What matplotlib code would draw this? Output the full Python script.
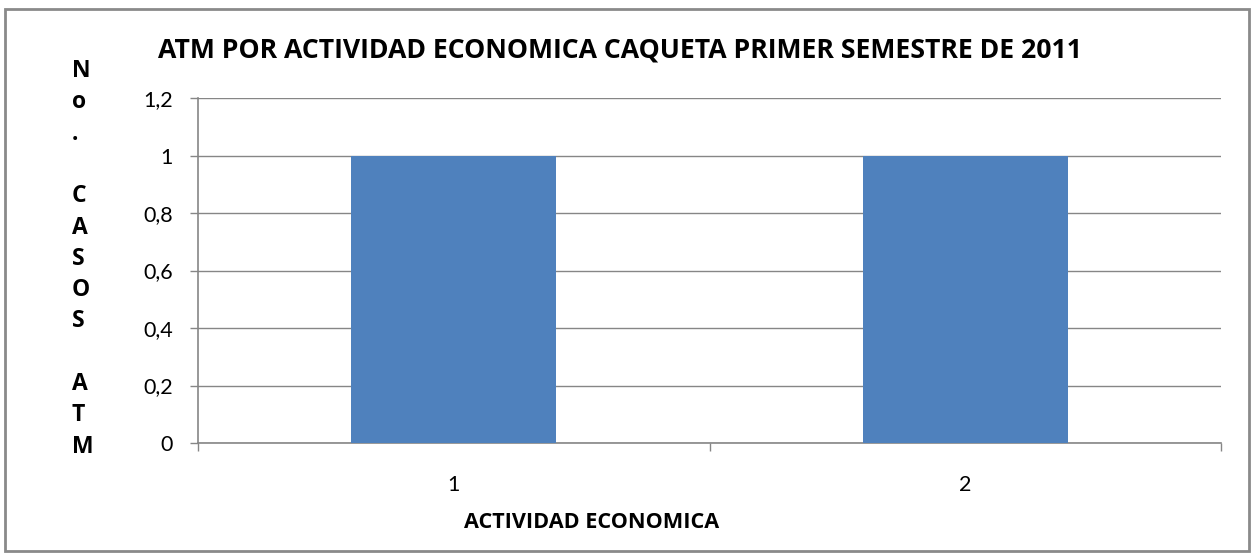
import matplotlib
matplotlib.use("Agg")
import matplotlib.pyplot as plt
from matplotlib.patches import Rectangle
from matplotlib.ticker import FixedLocator, FuncFormatter

categories = ["1", "2"]
values = [1, 1]
y_ticks = [0, 0.2, 0.4, 0.6, 0.8, 1.0, 1.2]
title = "ATM POR ACTIVIDAD ECONOMICA CAQUETA PRIMER SEMESTRE DE 2011"
xlabel = "ACTIVIDAD ECONOMICA"
ylabel_lines = ["N", "o", ".", "", "C", "A", "S", "O", "S", "", "A", "T", "M"]

plt.rcParams['font.family'] = ['Lato', 'DejaVu Sans']
bold_family = ['Open Sans', 'DejaVu Sans']
W, H = 1252, 556
fig = plt.figure(figsize=(W / 100, H / 100), dpi=100)
ax = fig.add_axes([198 / W, 1 - 443 / H, (1221 - 198) / W, (443 - 98) / H])

grid_c = "#868686"
bar_c = "#4F81BD"
x = list(range(1, len(categories) + 1))
ax.bar(x, values, width=0.4, color=bar_c, zorder=3)
ax.set_xlim(0.5, len(categories) + 0.5)
ax.set_ylim(0, 1.2)
ax.set_yticks(y_ticks)
ax.yaxis.set_major_formatter(FuncFormatter(lambda v, p: ("%g" % v).replace(".", ",")))
ax.grid(axis='y', color=grid_c, linewidth=1.0, zorder=0)
ax.set_axisbelow(True)

ax.xaxis.set_major_locator(FixedLocator([0.5 + i for i in range(len(categories) + 1)]))
ax.xaxis.set_minor_locator(FixedLocator(x))
ax.xaxis.set_major_formatter(FuncFormatter(lambda v, p: ""))
ax.xaxis.set_minor_formatter(FuncFormatter(lambda v, p: categories[int(round(v)) - 1]))
ax.tick_params(axis='x', which='major', length=6, color=grid_c, width=1)
ax.tick_params(axis='x', which='minor', length=0, pad=23, labelsize=15.5, labelcolor="#000000")
ax.tick_params(axis='y', length=6, color=grid_c, width=1, pad=12, labelsize=15.5)

for s in ['top', 'right']:
    ax.spines[s].set_visible(False)
for s in ['left', 'bottom']:
    ax.spines[s].set_color(grid_c)
    ax.spines[s].set_linewidth(1.2)

fig.text(620 / W, 1 - 51 / H, title, ha='center', va='center', fontsize=19.2,
         fontweight='bold', family=bold_family)
fig.text(592 / W, 1 - 523 / H, xlabel, ha='center', va='center', fontsize=15.6,
         fontweight='bold', family=bold_family)

y0, step = 71, 31.3
for i, ch in enumerate(ylabel_lines):
    if ch:
        fig.text(72 / W, 1 - (y0 + i * step) / H, ch, ha='left', va='center', fontsize=16.5,
                 fontweight='bold', family=bold_family)

fig.patches.append(Rectangle((5 / W, 5 / H), 1244 / W, 542 / H, transform=fig.transFigure,
                             fill=False, edgecolor="#8a8a8a", linewidth=2))

fig.savefig("out.png", dpi=100)
